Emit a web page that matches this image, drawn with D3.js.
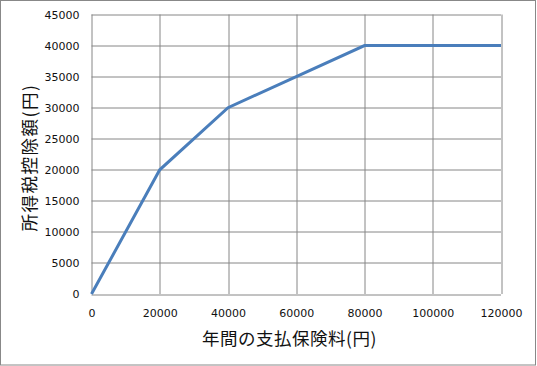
<!DOCTYPE html>
<html>
<head>
<meta charset="utf-8">
<script src="https://cdn.jsdelivr.net/npm/d3@7"></script>
<style>
  body { margin: 0; background: #fff; }
  text { font-family: "Noto Sans CJK JP", "DejaVu Sans", sans-serif; }
</style>
</head>
<body>
<div id="chart"></div>
<script>
// data (breakpoints of the curve)
const premium = [0, 20000, 40000, 80000, 120000];
const deduction = [0, 20000, 30000, 40000, 40000];
const xTicks = [0, 20000, 40000, 60000, 80000, 100000, 120000];
const yTicks = [0, 5000, 10000, 15000, 20000, 25000, 30000, 35000, 40000, 45000];
const xTitle = "年間の支払保険料(円)";
const yTitle = "所得税控除額(円)";

const W = 537, H = 366;
const margin = {top: 14.5, right: 36, bottom: 72, left: 91.5};
const width = W - margin.left - margin.right,
      height = H - margin.top - margin.bottom;

const root = d3.select("#chart").append("svg")
  .attr("width", W)
  .attr("height", H);

// outer frame
root.append("rect")
  .attr("x", 0.5).attr("y", 0.5)
  .attr("width", W - 2).attr("height", H - 1.5)
  .attr("fill", "#fff")
  .attr("stroke", "#888")
  .attr("stroke-width", 1);

const svg = root.append("g")
  .attr("transform", `translate(${margin.left},${margin.top})`);

const x = d3.scaleLinear().domain([0, 120000]).range([0, width]);
const y = d3.scaleLinear().domain([0, 45000]).range([height, 0]);

// grid
svg.selectAll(".vgrid")
  .data(xTicks)
  .enter().append("line")
    .attr("x1", d => Math.round(x(d)) + 0.5)
    .attr("x2", d => Math.round(x(d)) + 0.5)
    .attr("y1", 0).attr("y2", height)
    .attr("stroke", "#868686");
svg.selectAll(".hgrid")
  .data(yTicks)
  .enter().append("line")
    .attr("y1", d => Math.round(y(d)) + 0.5)
    .attr("y2", d => Math.round(y(d)) + 0.5)
    .attr("x1", 0).attr("x2", width)
    .attr("stroke", "#868686");

// tick labels
const xAxis = svg.append("g")
  .attr("transform", `translate(0, ${height})`)
  .call(d3.axisBottom(x).tickValues(xTicks).tickSize(0).tickPadding(15).tickFormat(d3.format("d")));
const yAxis = svg.append("g")
  .call(d3.axisLeft(y).tickValues(yTicks).tickSize(0).tickPadding(12).tickFormat(d3.format("d")));
[xAxis, yAxis].forEach(a => {
  a.select(".domain").remove();
  a.selectAll("text")
    .style("font-family", "\"DejaVu Sans\", sans-serif")
    .style("font-size", "11px")
    .attr("fill", "#111");
});

// the curve
svg.append("path")
  .datum(premium.map((p, i) => [p, deduction[i]]))
  .attr("fill", "none")
  .attr("stroke", "#4a7ebb")
  .attr("stroke-width", 3)
  .attr("d", d3.line()
    .x(d => x(d[0]))
    .y(d => y(d[1])));

// axis titles
svg.append("text")
  .attr("x", 289.5 - margin.left)
  .attr("y", 345 - margin.top)
  .style("text-anchor", "middle")
  .style("font-size", "17.5px")
  .style("letter-spacing", "0.5px")
  .attr("fill", "#111")
  .text(xTitle);

svg.append("text")
  .attr("transform", "rotate(-90)")
  .attr("x", -(157.5 - margin.top))
  .attr("y", 36 - margin.left)
  .style("text-anchor", "middle")
  .style("font-size", "17.5px")
  .style("letter-spacing", "1.5px")
  .attr("fill", "#111")
  .text(yTitle);
</script>
</body>
</html>
